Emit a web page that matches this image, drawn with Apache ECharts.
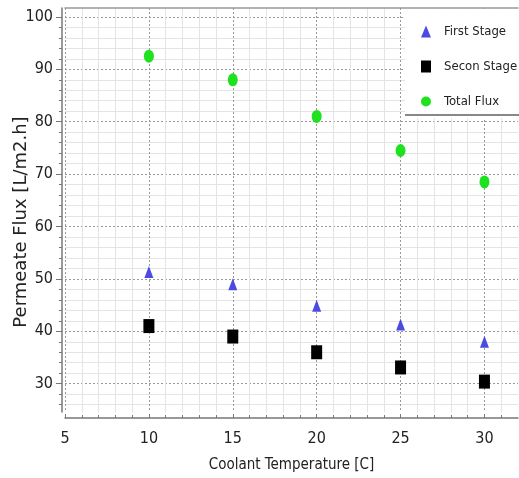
<!DOCTYPE html>
<html>
<head>
<meta charset="utf-8">
<script src="https://cdn.jsdelivr.net/npm/echarts@6/dist/echarts.min.js"></script>
<style>
  html, body { margin: 0; padding: 0; background: #fff; }
  #chart { width: 519px; height: 478px; }
</style>
</head>
<body>
<div id="chart"></div>
<script>
// coolant temperature [C]
const temps = [10, 15, 20, 25, 30]
// permeate flux [L/m2.h]
const firstStage = [51.3, 49, 44.9, 41.3, 38]
const secondStage = [41, 39, 36, 33.1, 30.4]
const totalFlux = [92.5, 88, 81, 74.5, 68.5]

const xMajor = [5, 10, 15, 20, 25, 30]
const xMinor = [6, 7, 8, 9, 11, 12, 13, 14, 16, 17, 18, 19, 21, 22, 23, 24, 26, 27, 28, 29, 31]
const yMajor = [30, 40, 50, 60, 70, 80, 90, 100]
const yMinor = [26, 28, 32, 34, 36, 38, 42, 44, 46, 48, 52, 54, 56, 58, 62, 64, 66, 68,
  72, 74, 76, 78, 82, 84, 86, 88, 92, 94, 96, 98]

const FONT = '"Liberation Sans Narrow", "DejaVu Sans Condensed", sans-serif'

const chart = echarts.init(document.getElementById('chart'))

function pairs(ys) {
  return temps.map((t, i) => [t, ys[i]])
}

chart.setOption({
  animation: false,
  grid: { left: 65, right: 1, top: 8, bottom: 66, outerBoundsMode: 'none', containLabel: false },
  xAxis: [
    {
      // minor grid
      type: 'value', min: 5, max: 32, position: 'bottom',
      offset: 6,
      axisLine: { show: false },
      axisTick: { show: true, inside: true, length: 3, customValues: xMinor, lineStyle: { color: '#777' } },
      axisLabel: { show: false },
      splitLine: { show: true, lineStyle: { color: '#e4e4e4', width: 1 } }
    },
    {
      type: 'value', min: 5, max: 32, position: 'bottom',
      offset: 6,
      name: 'Coolant Temperature [C]',
      nameLocation: 'middle',
      nameMoveOverlap: false,
      nameGap: 40,
      nameTextStyle: { fontFamily: FONT, fontSize: 15, color: '#222' },
      axisLine: { show: true, lineStyle: { color: '#777', width: 1.5 } },
      axisTick: { show: true, inside: true, length: 4, customValues: xMajor, lineStyle: { color: '#777' } },
      axisLabel: { customValues: xMajor, fontFamily: FONT, fontSize: 16, color: '#222', margin: 13 },
      splitLine: { show: true, lineStyle: { color: '#999', type: [2, 2], width: 1 } }
    },
    {
      // top frame
      type: 'value', min: 5, max: 32, position: 'top',
      axisLine: { show: true, lineStyle: { color: '#999', width: 1.5 } },
      axisTick: { show: false },
      axisLabel: { show: false },
      splitLine: { show: false }
    }
  ],
  yAxis: [
    {
      type: 'value', min: 24.6, max: 101.7, position: 'left',
      offset: 3,
      axisLine: { show: false },
      axisTick: { show: true, length: 3, customValues: yMinor, lineStyle: { color: '#777' } },
      axisLabel: { show: false },
      splitLine: { show: true, lineStyle: { color: '#e4e4e4', width: 1 } }
    },
    {
      type: 'value', min: 24.6, max: 101.7, position: 'left',
      offset: 3,
      name: 'Permeate Flux [L/m2.h]',
      nameLocation: 'middle',
      nameMoveOverlap: false,
      nameGap: 32,
      nameTextStyle: { fontFamily: '"DejaVu Sans", sans-serif', fontSize: 18, color: '#222', padding: [0, 24, 0, 0] },
      axisLine: { show: true, lineStyle: { color: '#777', width: 1.5 } },
      axisTick: { show: true, length: 6, customValues: yMajor, lineStyle: { color: '#777' } },
      axisLabel: { customValues: yMajor, fontFamily: FONT, fontSize: 16, color: '#222', margin: 9 },
      splitLine: { show: true, lineStyle: { color: '#999', type: [2, 2], width: 1 } }
    }
  ],
  legend: {
    orient: 'vertical',
    left: 405,
    top: 9,
    padding: [16, 30, 10, 16],
    backgroundColor: '#fff',
    itemWidth: 10,
    itemHeight: 12,
    itemGap: 22,
    textStyle: { fontFamily: FONT, fontSize: 13, color: '#222', padding: [0, 0, 0, 8] },
    data: [
      { name: 'First Stage', icon: 'triangle' },
      { name: 'Secon Stage', icon: 'rect' },
      { name: 'Total Flux', icon: 'circle' }
    ]
  },
  graphic: [
    {
      type: 'line',
      shape: { x1: 405, y1: 115, x2: 519, y2: 115 },
      style: { stroke: '#888', lineWidth: 2 },
      z: 100
    }
  ],
  series: [
    {
      name: 'First Stage', type: 'scatter', xAxisIndex: 1, yAxisIndex: 1,
      symbol: 'triangle', symbolSize: [9, 12],
      itemStyle: { color: '#4b4be3', opacity: 1 },
      data: pairs(firstStage)
    },
    {
      name: 'Secon Stage', type: 'scatter', xAxisIndex: 1, yAxisIndex: 1,
      symbol: 'rect', symbolSize: [11, 14],
      itemStyle: { color: '#000', opacity: 1 },
      data: pairs(secondStage)
    },
    {
      name: 'Total Flux', type: 'scatter', xAxisIndex: 1, yAxisIndex: 1,
      symbol: 'circle', symbolSize: [10, 13],
      itemStyle: { color: '#1ee21e', opacity: 1 },
      data: pairs(totalFlux)
    }
  ]
})
</script>
</body>
</html>
